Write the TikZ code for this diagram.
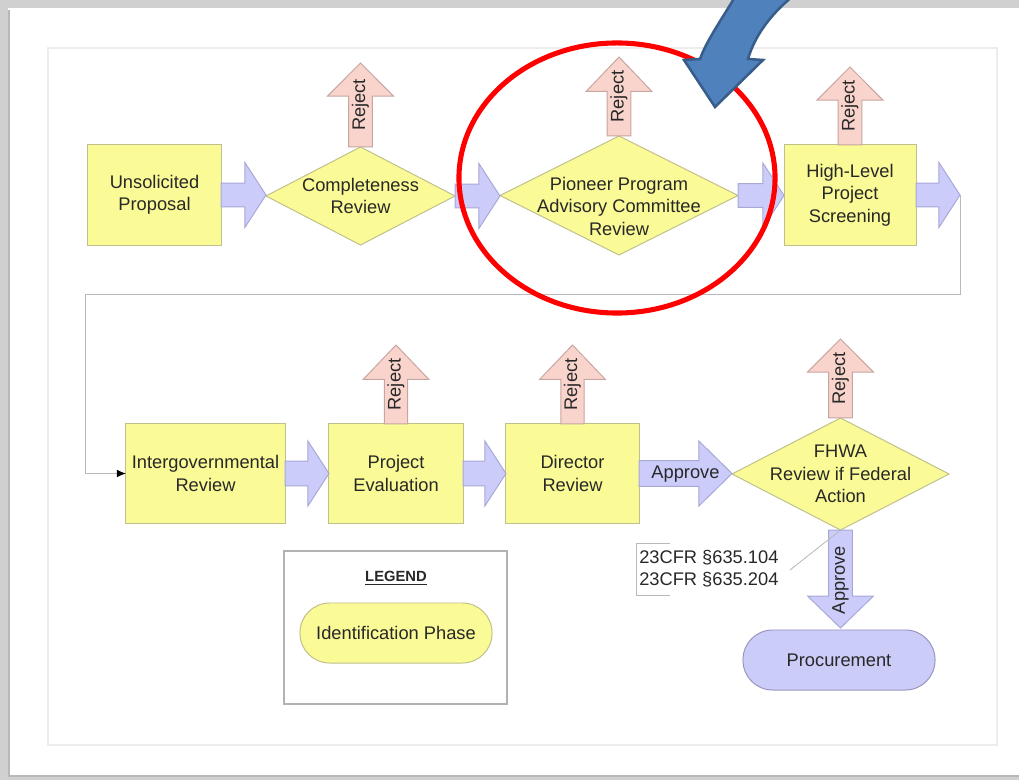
\documentclass[tikz,border=0pt]{standalone}
\usepackage{fontspec}
\setmainfont{Liberation Sans}
\usetikzlibrary{calc,arrows.meta}
\definecolor{bggray}{RGB}{208,208,208}
\definecolor{yfill}{RGB}{250,250,150}
\definecolor{ybord}{RGB}{192,192,140}
\definecolor{ffill}{RGB}{204,204,250}
\definecolor{fbord}{RGB}{168,168,215}
\definecolor{rfill}{RGB}{248,212,204}
\definecolor{rbord}{RGB}{200,165,160}
\definecolor{pfill}{RGB}{204,204,248}
\definecolor{pbord}{RGB}{150,150,190}
\definecolor{txtc}{RGB}{40,40,40}
\definecolor{linec}{RGB}{185,185,185}
\definecolor{bluef}{RGB}{79,129,189}
\definecolor{blueb}{RGB}{56,93,138}
\newcommand\fz{\fontsize{13}{16}\selectfont}
\newcommand\blockH[6]{%
 \draw[#6] let \p1=(#1),\p2=(#2) in ({\x1},{\y1+#4}) -- ({\x2-#3},{\y1+#4}) -- ({\x2-#3},{\y1+#5}) -- ({\x2},{\y1}) -- ({\x2-#3},{\y1-#5}) -- ({\x2-#3},{\y1-#4}) -- ({\x1},{\y1-#4}) -- cycle;}
\newcommand\blockV[6]{%
 \draw[#6] let \p1=(#1),\p2=(#2) in ({\x1+#4},{\y1}) -- ({\x1+#4},{\y2-(#3)}) -- ({\x1+#5},{\y2-(#3)}) -- ({\x1},{\y2}) -- ({\x1-#5},{\y2-(#3)}) -- ({\x1-#4},{\y2-(#3)}) -- ({\x1-#4},{\y1}) -- cycle;}
\begin{document}
\begin{tikzpicture}[x=0.025cm,y=-0.025cm,
  box/.style={draw=ybord,fill=yfill,line width=0.7pt,inner sep=0pt,outer sep=0pt,align=center,font=\fz,text=txtc},
  dhold/.style={inner sep=0pt,outer sep=0pt},
  dshape/.style={draw=ybord,fill=yfill,line width=0.7pt},
  txt/.style={inner sep=0pt,align=center,font=\fz,text=txtc},
  flow/.style={draw=fbord,fill=ffill,line width=0.7pt},
  rej/.style={draw=rbord,fill=rfill,line width=0.7pt},
  stad/.style={line width=0.7pt,inner sep=0pt,outer sep=0pt,rounded corners=0.74cm,align=center,font=\fz,text=txtc},
  loopline/.style={draw=linec,line width=0.7pt},
  thin/.style={draw=linec,line width=0.6pt}]
\useasboundingbox (0,0) rectangle (1019,780);
\clip (0,0) rectangle (1019,780);
% background
\fill[bggray] (0,0) rectangle (1019,780);
\fill[white] (8,8) rectangle (1019,777);
\draw[black!28,line width=1.2pt] (9,10) -- (9,776) -- (1019,776);
\draw[black!7,fill=white,line width=1pt] (48,48) rectangle (997,745);

% row 1
\node[box,minimum width=3.325cm,minimum height=2.5cm] (unsol) at (154.5,195) {Unsolicited\\Proposal};
\node[dhold,minimum width=4.725cm,minimum height=2.45cm] (compl) at (360.5,196) {};
\draw[dshape] (compl.north) -- (compl.east) -- (compl.south) -- (compl.west) -- cycle;
\node[txt] (compltxt) at (compl.center) {Completeness\\Review};
\node[dhold,minimum width=5.95cm,minimum height=2.975cm] (pion) at (619,195.5) {};
\draw[dshape] (pion.north) -- (pion.east) -- (pion.south) -- (pion.west) -- cycle;
\node[txt] (piontxt) at (619,206) {Pioneer Program\\Advisory Committee\\Review};
\node[box,minimum width=3.3cm,minimum height=2.5cm] (high) at (850,195) {High-Level\\Project\\Screening};
\coordinate (tip4) at (960,195);

\blockH{unsol.east}{compl.west}{15pt}{8.5pt}{23.1pt}{flow}
\blockH{compl.east}{pion.west}{15pt}{8.5pt}{23.1pt}{flow}
\blockH{pion.east}{high.west}{15pt}{8.5pt}{23.1pt}{flow}
\blockH{high.east}{tip4}{15pt}{8.5pt}{23.1pt}{flow}

% reject arrows row 1
\coordinate (rt1) at (360.5,63);
\coordinate (rt2) at (619,57);
\coordinate (rt3) at (850,67);
\blockV{compl.north}{rt1}{23.5pt}{8.5pt}{23.4pt}{rej}
\blockV{pion.north}{rt2}{24.5pt}{8.5pt}{23.4pt}{rej}
\blockV{high.north}{rt3}{23.5pt}{8.5pt}{23.4pt}{rej}
\node[txt,rotate=90] (rj1) at ($(compl.north)!0.5!(rt1)$) {Reject};
\node[txt,rotate=90] (rj2) at ($(pion.north)!0.5!(rt2)$) {Reject};
\node[txt,rotate=90] (rj3) at ($(high.north)!0.5!(rt3)$) {Reject};

% row 2
\node[box,minimum width=3.975cm,minimum height=2.475cm] (inter) at (205.5,473.5) {Intergovernmental\\Review};
\node[box,minimum width=3.35cm,minimum height=2.475cm] (peval) at (396,473.5) {Project\\Evaluation};
\node[box,minimum width=3.325cm,minimum height=2.475cm] (direc) at (572.5,473.5) {Director\\Review};
\node[dhold,minimum width=5.425cm,minimum height=2.8cm] (fhwa) at (840.5,474) {};
\draw[dshape] (fhwa.north) -- (fhwa.east) -- (fhwa.south) -- (fhwa.west) -- cycle;
\node[txt] (fhwatxt) at (fhwa.center) {FHWA\\Review if Federal\\Action};

\blockH{inter.east}{peval.west}{15pt}{8.8pt}{23.1pt}{flow}
\blockH{peval.east}{direc.west}{15pt}{8.8pt}{23.1pt}{flow}
\blockH{direc.east}{fhwa.west}{23.5pt}{9.2pt}{23.1pt}{flow}
\node[txt] (appr1) at ($(direc.east)!0.5!(fhwa.west)$) {Approve};

\coordinate (rt4) at (396,345);
\coordinate (rt5) at (572.5,345);
\coordinate (rt6) at (840.5,339);
\blockV{peval.north}{rt4}{24.5pt}{8.2pt}{23.4pt}{rej}
\blockV{direc.north}{rt5}{24.5pt}{8.2pt}{23.4pt}{rej}
\blockV{fhwa.north}{rt6}{23.5pt}{8.5pt}{23.4pt}{rej}
\node[txt,rotate=90] (rj4) at ($(peval.north)!0.5!(rt4)$) {Reject};
\node[txt,rotate=90] (rj5) at ($(direc.north)!0.5!(rt5)$) {Reject};
\node[txt,rotate=90] (rj6) at ($(fhwa.north)!0.5!(rt6)$) {Reject};

% loop connector
\draw[loopline,-{Latex[length=6.5pt,width=5.5pt,black]}] (tip4) |- (85,294) |- (inter.west);

% procurement
\node[stad,draw=pbord,fill=pfill,minimum width=4.8cm,minimum height=1.5cm] (proc) at (839,660) {Procurement};
\coordinate (proctop) at (840.5,628);
\blockV{fhwa.south}{proctop}{-22.7pt}{8.5pt}{23.4pt}{flow}
\node[txt,rotate=90] (appr2) at (840.5,580) {Approve};

% CFR annotation
\node[txt,align=left,anchor=west,font=\fontsize{13}{15.6}\selectfont] (cfr) at (639,569) {23CFR §635.104\\23CFR §635.204};
\draw[thin] (670,543) -- (636,543) -- (636,595) -- (670,595);
\coordinate (annot) at (790,570);
\draw[thin] (annot) -- (fhwa.south);

% legend
\node[draw=black!30,line width=0.8pt,fill=white,minimum width=5.575cm,minimum height=3.825cm,inner sep=0pt] (legend) at (395.5,627.5) {};
\node[font=\bfseries\fontsize{10.5}{12}\selectfont,text=txtc] (legtitle) at (396,578) {\underline{LEGEND}};
\node[stad,draw=ybord,fill=yfill,minimum width=4.8cm,minimum height=1.5cm] (idph) at (396,633) {Identification Phase};

% red ellipse
\draw[red,line width=3.6pt] (617,178) ellipse [x radius=3.95cm, y radius=3.375cm];

% blue curved arrow
\draw[blueb,fill=bluef,line width=1.8pt,line join=miter]
  (738,-8) .. controls (720,22) and (707,40) .. (700,59) -- (684,60) -- (715,107) -- (763,60) -- (748,59)
  .. controls (755,35) and (772,12) .. (798,-8) -- cycle;
\end{tikzpicture}
\end{document}
